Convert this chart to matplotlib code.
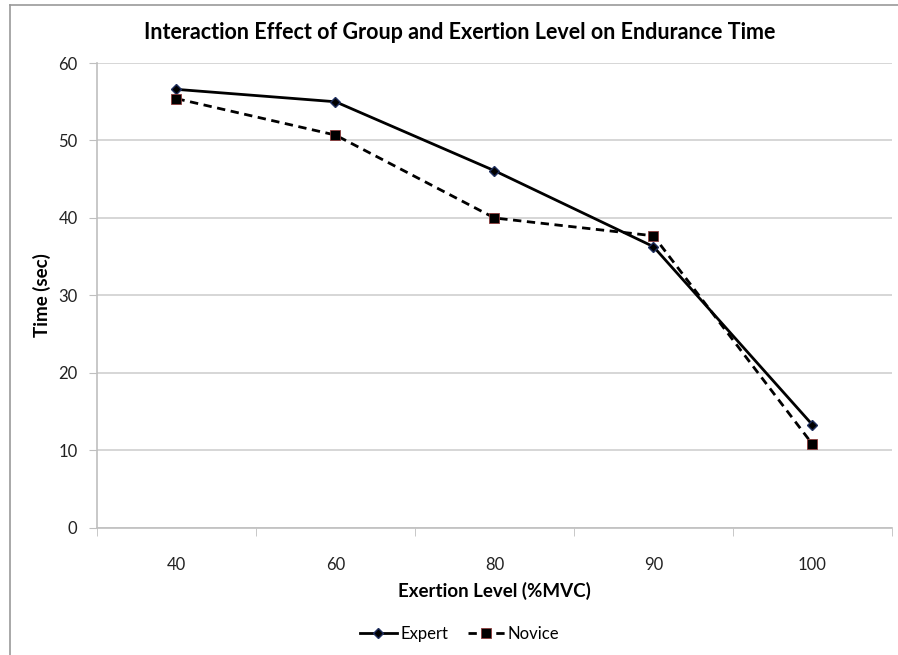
import numpy as np
import matplotlib.pyplot as plt
from matplotlib.lines import Line2D

plt.rcParams['font.family'] = ['Lato', 'DejaVu Sans']

# exertion levels (%MVC) and mean endurance times
levels = ["40", "60", "80", "90", "100"]
expert = [56.6, 55.0, 46.1, 36.3, 13.3]
novice = [55.4, 50.7, 40.0, 37.7, 10.8]

fig = plt.figure(figsize=(8.98, 6.55), dpi=100)
ax = fig.add_axes([0.108, 0.194, 0.8853, 0.7098])

x = np.arange(len(levels))
ax.plot(x, expert, color="black", linewidth=2, marker="D", markersize=5.5,
        markerfacecolor="black", markeredgecolor="#1f2f5f", label="Expert")
ax.plot(x, novice, color="black", linewidth=2, linestyle=(0, (3, 2)), marker="s",
        markersize=7.5, markerfacecolor="black", markeredgecolor="#8b3a3a",
        markeredgewidth=0.6, label="Novice")

ax.set_xlim(-0.5, len(levels) - 0.5)
ax.set_ylim(0, 60)
ax.set_yticks(range(0, 61, 10))
ax.set_xticks(x)
ax.set_xticklabels(levels)
# category boundary ticks
ax.set_xticks(np.arange(-0.5, len(levels)), minor=True)
ax.tick_params(axis="x", which="major", length=0, pad=21, labelsize=12, colors="#222222")
ax.tick_params(axis="x", which="minor", length=6, color="#bfbfbf", direction="out")
ax.tick_params(axis="y", length=6, color="#bfbfbf", pad=8, labelsize=12, labelcolor="#222222")

ax.grid(axis="y", color="#d0d0d0", linewidth=1.2)
ax.set_axisbelow(True)
for side in ["top", "right"]:
    ax.spines[side].set_visible(False)
for side in ["left", "bottom"]:
    ax.spines[side].set_color("#bfbfbf")
    ax.spines[side].set_linewidth(1.2)

ax.set_xlabel("Exertion Level (%MVC)", fontsize=13.5, fontweight="bold", labelpad=6)
ax.set_ylabel("Time (sec)", fontsize=13.5, fontweight="bold", labelpad=5)
fig.text(0.512, 0.951, "Interaction Effect of Group and Exertion Level on Endurance Time",
         ha="center", va="center", fontsize=15.5, fontweight="bold")

fig.legend(loc="center", bbox_to_anchor=(0.512, 0.032), ncol=2, frameon=False,
           fontsize=12, handlelength=2.2, columnspacing=1.2, handletextpad=0.2)

# chart border (left and top edges)
fig.add_artist(Line2D([0.011, 0.011], [0, 0.993], color="#9a9a9a", linewidth=1.2))
fig.add_artist(Line2D([0.011, 1], [0.993, 0.993], color="#9a9a9a", linewidth=1.2))

plt.savefig("out.png", dpi=100)
